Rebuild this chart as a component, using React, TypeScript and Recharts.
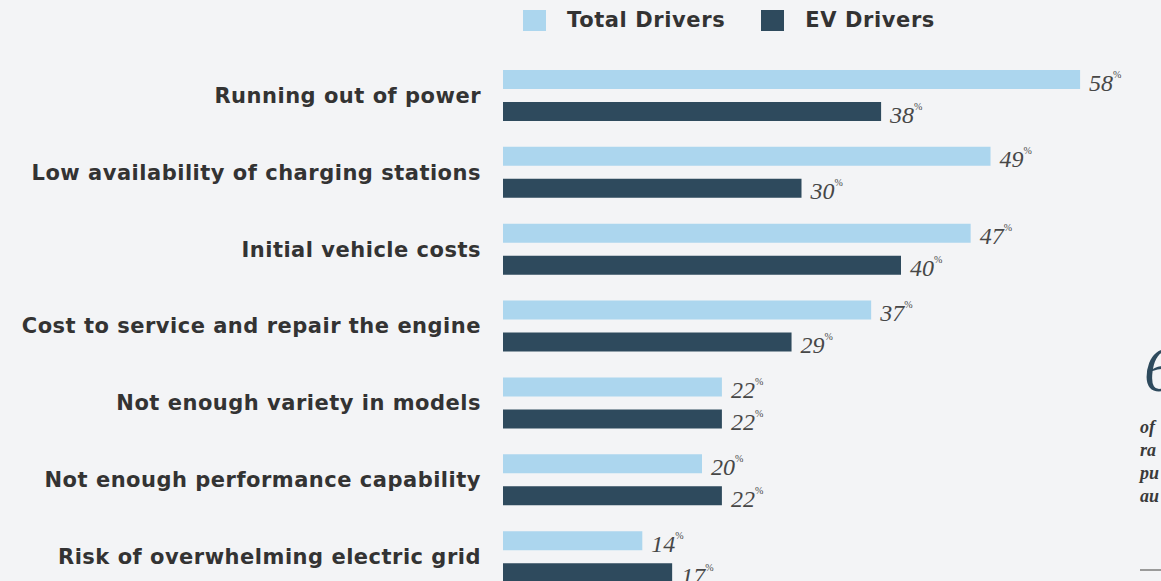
import { BarChart, Bar, XAxis, YAxis, LabelList } from "recharts";

// ─── Data ────────────────────────────────────────────────────────────────────

const CATEGORIES = [
  "Running out of power",
  "Low availability of charging stations",
  "Initial vehicle costs",
  "Cost to service and repair the engine",
  "Not enough variety in models",
  "Not enough performance capability",
  "Risk of overwhelming electric grid",
];

const TOTAL_DRIVERS = [58, 49, 47, 37, 22, 20, 14];
const EV_DRIVERS = [38, 30, 40, 29, 22, 22, 17];

const SERIES = [
  { key: "total", name: "Total Drivers", color: "#acd6ee" },
  { key: "ev", name: "EV Drivers", color: "#2e4a5d" },
];

const SIDE_LINES = ["of", "ra", "pu", "au"];

const data = CATEGORIES.map((name, i) => ({
  name,
  total: TOTAL_DRIVERS[i],
  ev: EV_DRIVERS[i],
}));

const BG = "#f3f4f6";
const SANS = "'DejaVu Sans', sans-serif";
const SERIF = "'Liberation Serif', 'DejaVu Serif', serif";

// ─── Value label (italic serif number + small superscript %) ─────────────────

function ValueLabel(props: any) {
  const { x, y, width, height, value } = props;
  return (
    <text
      x={x + width + 9}
      y={y + height / 2 + 3}
      dominantBaseline="central"
      fontFamily={SERIF}
      fontStyle="italic"
      fontSize={24}
      fill="#474747"
    >
      {value}
      <tspan fontSize={10} dy={-9} fontStyle="normal" fill="#4a4a4a">
        %
      </tspan>
    </text>
  );
}

export default function App() {
  return (
    <div
      style={{
        position: "absolute",
        left: 0,
        top: 0,
        width: 1161,
        height: 581,
        overflow: "hidden",
        background: BG,
      }}
    >
      {/* legend */}
      <div
        style={{
          position: "absolute",
          left: 523,
          top: 8,
          display: "flex",
          alignItems: "center",
          fontFamily: SANS,
          fontWeight: 700,
          fontSize: 21,
          letterSpacing: 0.6,
          color: "#333",
        }}
      >
        {SERIES.map((s, i) => (
          <div
            key={s.key}
            style={{ display: "flex", alignItems: "center", marginRight: i === 0 ? 36 : 0 }}
          >
            <span
              style={{
                display: "inline-block",
                width: 23,
                height: 21,
                background: s.color,
                marginRight: 21,
              }}
            />
            <span>{s.name}</span>
          </div>
        ))}
      </div>

      <BarChart
        width={1161}
        height={600}
        data={data}
        layout="vertical"
        margin={{ top: 57, right: 61, left: 0, bottom: 5 }}
        barSize={19}
        barGap={13}
      >
        <XAxis type="number" domain={[0, 60]} hide />
        <YAxis
          type="category"
          dataKey="name"
          width={503}
          axisLine={false}
          tickLine={false}
          tickMargin={16}
          tick={{
            fontSize: 21,
            fontWeight: 700,
            fill: "#333",
            fontFamily: SANS,
            letterSpacing: 0.5,
          }}
        />
        {SERIES.map((s) => (
          <Bar key={s.key} dataKey={s.key} name={s.name} fill={s.color} isAnimationActive={false}>
            <LabelList dataKey={s.key} content={ValueLabel} />
          </Bar>
        ))}
      </BarChart>

      {/* cut-off side panel at right edge */}
      <div
        style={{
          position: "absolute",
          left: 1144,
          top: 338,
          fontFamily: SERIF,
          fontStyle: "italic",
          fontSize: 64,
          color: "#2e4a5d",
          lineHeight: 1,
        }}
      >
        6
      </div>
      <div
        style={{
          position: "absolute",
          left: 1140,
          top: 416,
          fontFamily: SERIF,
          fontStyle: "italic",
          fontWeight: 700,
          fontSize: 18,
          lineHeight: "23px",
          color: "#3a3a3a",
        }}
      >
        {SIDE_LINES.map((t) => (
          <div key={t}>{t}</div>
        ))}
      </div>
      <div
        style={{
          position: "absolute",
          left: 1140,
          top: 569,
          width: 30,
          height: 2,
          background: "#9a9a9a",
        }}
      />
    </div>
  );
}
